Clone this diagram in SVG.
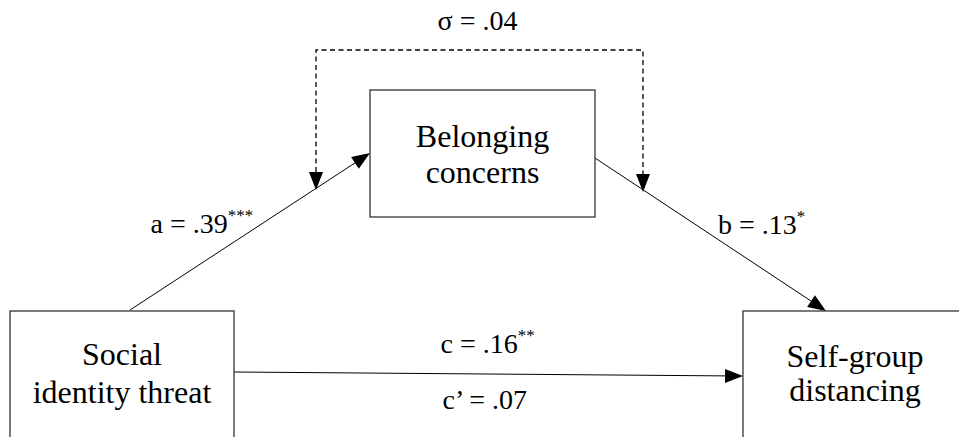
<svg xmlns="http://www.w3.org/2000/svg" width="959" height="437" viewBox="0 0 959 437">
<rect width="959" height="437" fill="#fff"/>
<g id="connectors">
<line stroke="#000" stroke-width="1" x1="130" y1="310" x2="355" y2="162.9"/>
<polygon fill="#000" points="370,153 358.8,168.7 351.1,157"/>
<line stroke="#000" stroke-width="1" x1="595" y1="158" x2="811" y2="301"/>
<polygon fill="#000" points="826,311 807.1,306.9 814.9,295.2"/>
<line stroke="#000" stroke-width="1" x1="234" y1="372" x2="725" y2="375.9"/>
<polygon fill="#000" points="743,376 725,382.9 725.1,368.9"/>
<path fill="none" stroke="#000" stroke-width="1.3" stroke-dasharray="5,3.5" d="M316,172 V50 H643 V174"/>
<polygon fill="#000" points="316,190 309,172 323,172"/>
<polygon fill="#000" points="643,192 636,174 650,174"/>
</g>
<g id="belonging">
<rect fill="#fff" stroke="#333" stroke-width="1.3" x="370" y="90" width="225" height="127"/>
<text x="482.5" y="147" font-family="Liberation Serif" font-size="32" text-anchor="middle">Belonging</text>
<text x="482.5" y="183" font-family="Liberation Serif" font-size="32" text-anchor="middle">concerns</text>
</g>
<g id="social">
<rect fill="#fff" stroke="#333" stroke-width="1.3" x="10" y="311" width="224" height="140"/>
<text x="122" y="365" font-family="Liberation Serif" font-size="32" text-anchor="middle">Social</text>
<text x="122" y="403" font-family="Liberation Serif" font-size="32" text-anchor="middle">identity threat</text>
</g>
<g id="selfgroup">
<rect fill="#fff" stroke="#333" stroke-width="1.3" x="743" y="311" width="230" height="140"/>
<text x="855" y="367" font-family="Liberation Serif" font-size="32" text-anchor="middle">Self-group</text>
<text x="855" y="401" font-family="Liberation Serif" font-size="32" text-anchor="middle">distancing</text>
</g>
<g id="labels">
<text x="477.5" y="30" font-family="Liberation Serif" font-size="28" text-anchor="middle">σ = .04</text>
<text x="150.5" y="233" font-family="Liberation Serif" font-size="28">a = .39<tspan font-size="17" dy="-12">***</tspan></text>
<text x="718" y="234" font-family="Liberation Serif" font-size="28">b = .13<tspan font-size="17" dy="-12">*</tspan></text>
<text x="440.5" y="353" font-family="Liberation Serif" font-size="28">c = .16<tspan font-size="17" dy="-12">**</tspan></text>
<text x="442.5" y="409" font-family="Liberation Serif" font-size="28">c’ = .07</text>
</g>
</svg>
